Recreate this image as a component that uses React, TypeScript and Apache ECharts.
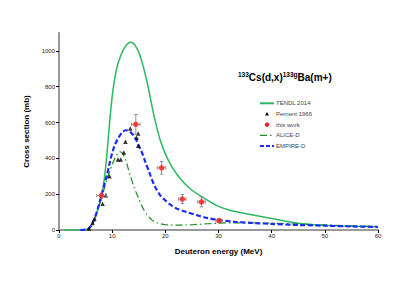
import React, { useEffect, useRef } from "react";
import * as echarts from "echarts";

const tendlE = [1, 4, 5, 5.5, 6, 6.5, 7, 7.5, 8, 8.5, 9, 9.5, 10, 10.5, 11, 11.5, 12, 12.5, 13, 13.5, 14, 14.5, 15, 15.5, 16, 16.5, 17, 17.5, 18, 19, 20, 21, 22, 23, 24, 25, 26, 28, 30, 32, 35, 38, 40, 45, 50, 55, 60];
const tendlV = [0, 0, 2, 8, 22, 50, 90, 135, 190, 280, 420, 595, 745, 850, 920, 965, 1000, 1025, 1042, 1048, 1042, 1022, 992, 950, 895, 835, 765, 690, 620, 505, 425, 365, 318, 280, 248, 222, 202, 165, 132, 112, 92, 75, 64, 38, 26, 21, 18];

const empireE = [4, 5, 5.5, 6, 6.5, 7, 7.5, 8, 8.5, 9, 9.5, 10, 10.5, 11, 11.5, 12, 12.5, 13, 13.5, 14, 14.5, 15, 15.5, 16, 17, 18, 19, 20, 21, 22, 24, 26, 28, 30, 33, 36, 40, 45, 50, 55, 60];
const empireV = [0, 2, 8, 22, 50, 90, 140, 195, 250, 305, 370, 430, 475, 505, 530, 548, 557, 555, 545, 528, 505, 470, 440, 400, 320, 245, 195, 165, 140, 122, 100, 82, 66, 56, 46, 40, 34, 28, 24, 20, 17];

const aliceE = [5, 5.5, 6, 6.5, 7, 7.5, 8, 8.5, 9, 9.5, 10, 10.5, 11, 11.5, 12, 12.5, 13, 13.5, 14, 14.5, 15, 15.5, 16, 16.5, 17, 17.5, 18, 19, 20, 22, 24, 26, 28, 30, 33, 36, 40, 45, 50, 55, 60];
const aliceV = [0, 5, 20, 45, 85, 130, 180, 230, 280, 325, 365, 400, 425, 437, 425, 395, 345, 295, 250, 210, 175, 140, 110, 88, 70, 55, 45, 35, 30, 27, 28, 31, 35, 38, 40, 40, 38, 33, 28, 23, 20];

const pernentE = [5.65, 6.3, 6.65, 8.2, 8.8, 9.5, 11.1, 11.6, 12.2, 12.5, 13.4, 14.6, 14.9, 14.9];
const pernentV = [9, 39, 62, 147, 194, 300, 394, 394, 433, 493, 567, 515, 539, 470];

const workE = [8.0, 14.45, 19.3, 23.2, 26.8, 30.1];
const workV = [192, 590, 347, 173, 157, 52];
const workEErr = [0.9, 0.8, 0.8, 0.7, 0.7, 0.6];
const workVErr = [15, 55, 35, 25, 28, 10];

const xTicks = [0, 10, 20, 30, 40, 50, 60];
const yTicks = [0, 200, 400, 600, 800, 1000];

const legendLabels = ["TENDL 2014", "Pernent 1966", "this work", "ALICE-D", "EMPIRE-D"];

const FONT = "Liberation Sans, Arial, sans-serif";
const C_TENDL = "#2cb85f";
const C_ALICE = "#1e8c1e";
const C_EMPIRE = "#1a2cff";
const C_WORK = "#ff1a1a";

const zip = (a: number[], b: number[]) => a.map((v, i) => [v, b[i]]);

export default function App() {
  const ref = useRef<HTMLDivElement>(null);
  useEffect(() => {
    if (!ref.current) return;
    const chart = echarts.init(ref.current, undefined, { renderer: "svg" });
    const errData = workE.map((e, i) => [e, workV[i], workEErr[i], workVErr[i]]);

    const lx0 = 260;
    const lx1 = 274;
    const ly0 = 103.3;
    const lgap = 10.7;
    const legendGraphics: any[] = [];
    legendLabels.forEach((label, i) => {
      const y = ly0 + i * lgap;
      legendGraphics.push({
        type: "text",
        x: 276,
        y,
        style: { text: label, fontSize: 6, fill: "#444", fontFamily: FONT, verticalAlign: "middle", align: "left" },
      });
      if (i === 0) {
        legendGraphics.push({ type: "line", shape: { x1: lx0, y1: y, x2: lx1, y2: y }, style: { stroke: C_TENDL, lineWidth: 2 } });
      } else if (i === 1) {
        legendGraphics.push({ type: "polygon", shape: { points: [[267, y - 2], [265, y + 1.5], [269, y + 1.5]] }, style: { fill: "#000" } });
      } else if (i === 2) {
        legendGraphics.push({ type: "circle", shape: { cx: 267, cy: y, r: 2.2 }, style: { fill: C_WORK } });
      } else if (i === 3) {
        legendGraphics.push({ type: "line", shape: { x1: lx0, y1: y, x2: lx1, y2: y }, style: { stroke: C_ALICE, lineWidth: 1.3, lineDash: [7, 3, 1.5, 3] } });
      } else {
        legendGraphics.push({ type: "line", shape: { x1: lx0, y1: y, x2: lx1, y2: y }, style: { stroke: C_EMPIRE, lineWidth: 2, lineDash: [4, 2] } });
      }
    });

    chart.setOption({
      animation: false,
      backgroundColor: "#fff",
      textStyle: { fontFamily: FONT },
      title: {
        text: "{s|133}{b|Cs(d,x)}{s|133g}{b|Ba(m+)}",
        left: 233,
        top: 66,
        textStyle: {
          rich: {
            s: { fontSize: 6.5, fontWeight: "bold", fontFamily: FONT, color: "#000", verticalAlign: "top", lineHeight: 12 },
            b: { fontSize: 10, fontWeight: "bold", fontFamily: FONT, color: "#000", lineHeight: 12 },
          },
        },
      },
      graphic: legendGraphics,
      grid: { left: 59, right: 37, top: 33, bottom: 64 },
      xAxis: [
        {
          type: "value",
          min: 0,
          max: 60,
          interval: 10,
          name: "Deuteron energy (MeV)",
          nameLocation: "middle",
          nameGap: 17,
          nameTextStyle: { fontSize: 8, fontWeight: "bold", color: "#000", fontFamily: FONT },
          axisLine: { lineStyle: { color: "#000", width: 1 } },
          axisTick: { length: 3, lineStyle: { color: "#000" } },
          axisLabel: { fontSize: 6, color: "#222", margin: 3, formatter: (v: number) => (xTicks.includes(v) ? String(v) : "") },
          splitLine: { show: false },
        },
        {
          type: "value",
          position: "top",
          min: 0,
          max: 1,
          axisLine: { lineStyle: { color: "#999", width: 2 } },
          axisTick: { show: false },
          axisLabel: { show: false },
          splitLine: { show: false },
        },
      ],
      yAxis: [
        {
          type: "value",
          min: 0,
          max: 1100,
          interval: 200,
          name: "Cross section (mb)",
          nameLocation: "middle",
          nameGap: 18,
          nameRotate: 90,
          nameTextStyle: { fontSize: 8, fontWeight: "bold", color: "#000", fontFamily: FONT },
          axisLine: { show: true, lineStyle: { color: "#000", width: 1 } },
          axisTick: { show: true, length: 3, lineStyle: { color: "#000" } },
          axisLabel: { fontSize: 6, color: "#222", margin: 4, showMaxLabel: false, formatter: (v: number) => (yTicks.includes(v) ? String(v) : "") },
          splitLine: { show: false },
        },
        {
          type: "value",
          position: "right",
          min: 0,
          max: 1,
          axisLine: { show: true, lineStyle: { color: "#999", width: 2 } },
          axisTick: { show: false },
          axisLabel: { show: false },
          splitLine: { show: false },
        },
      ],
      series: [
        {
          name: "TENDL 2014",
          type: "line",
          data: zip(tendlE, tendlV),
          smooth: 0.3,
          showSymbol: false,
          symbol: "none",
          lineStyle: { color: C_TENDL, width: 1.5 },
          itemStyle: { color: C_TENDL },
          z: 2,
        },
        {
          name: "ALICE-D",
          type: "line",
          data: zip(aliceE, aliceV),
          smooth: 0.3,
          showSymbol: false,
          symbol: "none",
          lineStyle: { color: C_ALICE, width: 1.2, type: [7, 3, 1.5, 3] },
          itemStyle: { color: C_ALICE },
          z: 3,
        },
        {
          name: "EMPIRE-D",
          type: "line",
          data: zip(empireE, empireV),
          smooth: 0.3,
          showSymbol: false,
          symbol: "none",
          lineStyle: { color: C_EMPIRE, width: 2.2, type: [5, 2.5] },
          itemStyle: { color: C_EMPIRE },
          z: 4,
        },
        {
          name: "Pernent 1966",
          type: "scatter",
          data: zip(pernentE, pernentV),
          symbol: "triangle",
          symbolSize: 4.5,
          itemStyle: { color: "#000" },
          z: 5,
        },
        {
          name: "errors",
          type: "custom",
          data: errData,
          encode: { x: 0, y: 1 },
          z: 6,
          silent: true,
          renderItem: (params: any, api: any) => {
            const x = api.value(0);
            const y = api.value(1);
            const ex = api.value(2);
            const ey = api.value(3);
            const l = api.coord([x - ex, y]);
            const r = api.coord([x + ex, y]);
            const t = api.coord([x, y + ey]);
            const b = api.coord([x, y - ey]);
            const cap = 1.8;
            const st = { stroke: "#888", lineWidth: 0.9 };
            return {
              type: "group",
              children: [
                { type: "line", shape: { x1: l[0], y1: l[1], x2: r[0], y2: r[1] }, style: st },
                { type: "line", shape: { x1: t[0], y1: t[1], x2: b[0], y2: b[1] }, style: st },
                { type: "line", shape: { x1: l[0], y1: l[1] - cap, x2: l[0], y2: l[1] + cap }, style: st },
                { type: "line", shape: { x1: r[0], y1: r[1] - cap, x2: r[0], y2: r[1] + cap }, style: st },
                { type: "line", shape: { x1: t[0] - cap, y1: t[1], x2: t[0] + cap, y2: t[1] }, style: st },
                { type: "line", shape: { x1: b[0] - cap, y1: b[1], x2: b[0] + cap, y2: b[1] }, style: st },
              ],
            };
          },
        },
        {
          name: "this work",
          type: "scatter",
          data: zip(workE, workV),
          symbol: "circle",
          symbolSize: 5.5,
          itemStyle: { color: C_WORK },
          z: 7,
        },
      ],
    });
    return () => chart.dispose();
  }, []);
  return <div ref={ref} style={{ width: 415, height: 294, position: "absolute", left: 0, top: 0 }} />;
}
